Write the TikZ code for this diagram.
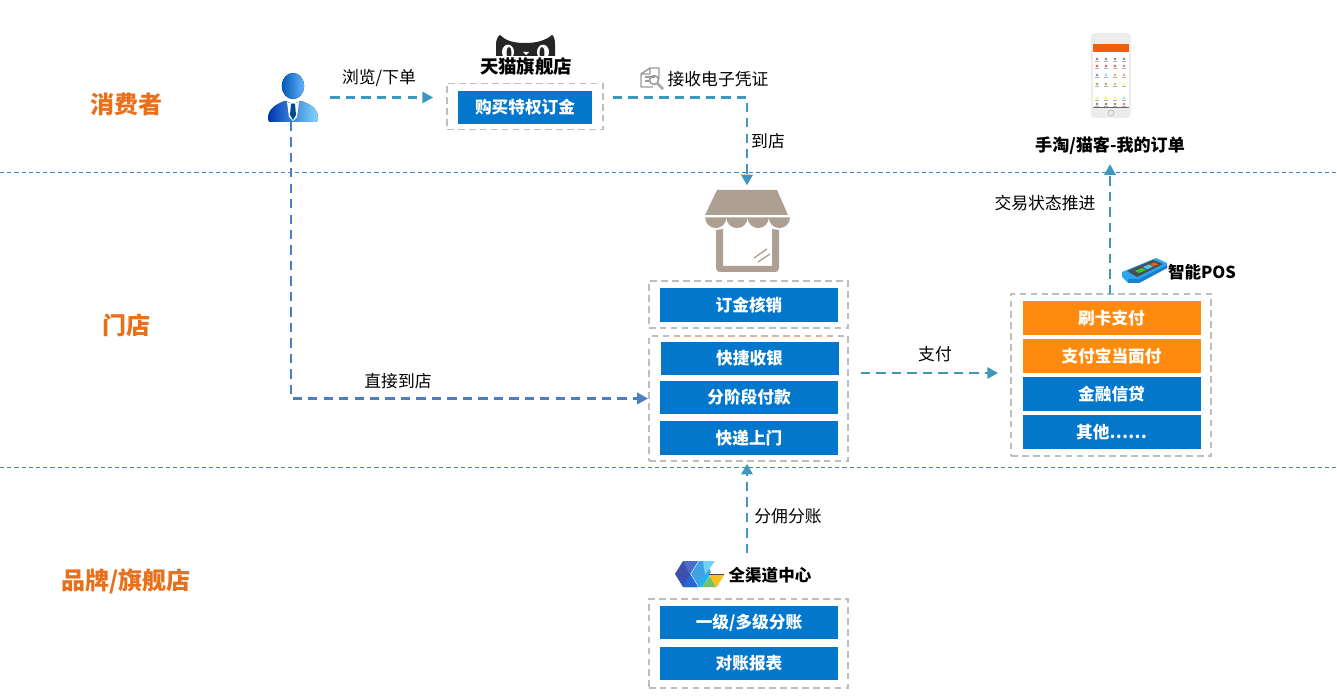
\documentclass[tikz,border=0pt]{standalone}
\usepackage{fontspec}
\setmainfont{Noto Sans CJK SC}
\usetikzlibrary{arrows.meta,calc}
\definecolor{bluebox}{HTML}{0277CC}
\definecolor{orangebox}{HTML}{FF8A0D}
\definecolor{lane}{HTML}{E8701A}
\definecolor{flowa}{HTML}{3F97BF}
\definecolor{flowb}{HTML}{4A7FC1}
\definecolor{divider}{HTML}{3F86CC}
\definecolor{framegray}{HTML}{BEBEBE}
\definecolor{shop}{HTML}{ADA092}
\definecolor{lgdark}{HTML}{3D4FB0}
\definecolor{lgmid}{HTML}{4A6FC8}
\definecolor{lgblue}{HTML}{2468D2}
\definecolor{lgsky}{HTML}{3FA2E2}
\definecolor{lgpale}{HTML}{6FD0F8}
\definecolor{lgcyan}{HTML}{15B8F0}
\definecolor{lggreen}{HTML}{74C268}
\definecolor{lgyellow}{HTML}{F8C020}
\definecolor{posblue}{HTML}{2AA5EE}
\definecolor{poshigh}{HTML}{1B7FD0}
\definecolor{posdark}{HTML}{4A4F55}
\definecolor{phoneorange}{HTML}{F0600A}
\tikzset{
  x=0.75pt,y=-0.75pt,
  lanetext/.style={text=lane,font=\fontsize{18pt}{20pt}\selectfont\bfseries,inner sep=0},
  plain/.style={text=black,font=\fontsize{12.6pt}{15pt}\selectfont,inner sep=0},
  headline/.style={text=black,font=\fontsize{12.8pt}{15pt}\selectfont\bfseries,inner sep=0},
  blue/.style={fill=bluebox,text=white,font=\fontsize{12.5pt}{15pt}\selectfont\bfseries,inner sep=0,minimum width=133.5pt,minimum height=25.2pt},
  orange/.style={blue,fill=orangebox},
  frame/.style={draw=framegray,line width=1.4pt,dash pattern=on 5pt off 3.2pt,inner sep=0},
  flow/.style={draw=flowa,line width=1.6pt,dash pattern=on 7pt off 4.6pt,-{Triangle[length=8pt,width=8.5pt]}},
  flowdark/.style={flow,draw=flowb},
  laneline/.style={draw=divider,line width=0.8pt,dash pattern=on 3.2pt off 2.2pt},
  anchorbox/.style={inner sep=0,draw=none},
}
\begin{document}
\begin{tikzpicture}
\useasboundingbox (0,0) rectangle (1337,698);
% lanes
\coordinate (la) at (0,172.5); \coordinate (lb) at (1337,172.5);
\coordinate (lc) at (0,467.5); \coordinate (ld) at (1337,467.5);
\draw[laneline] (la) -- (lb);
\draw[laneline] (lc) -- (ld);
\node[lanetext] (l1) at (126,104.5) {消费者};
\node[lanetext] (l2) at (126,325.5) {门店};
\node[lanetext] (l3) at (126,581.5) {品牌/旗舰店};

% frames
\node[frame,minimum width=117pt,minimum height=34.5pt] (tmallbox) at (525,106.5) {};
\node[frame,minimum width=149.5pt,minimum height=35pt] (verifybox) at (748.5,304.5) {};
\node[frame,minimum width=149.5pt,minimum height=93.5pt] (kiosk) at (748.5,398.5) {};
\node[frame,minimum width=150pt,minimum height=121.5pt] (paybox) at (1111,375) {};
\node[frame,minimum width=149.5pt,minimum height=66.5pt] (splitbox) at (748.5,643.5) {};

% blue and orange bars
\node[blue,minimum width=100.5pt] (b1) at (525,107.5) {购买特权订金};
\node[blue] (b2) at (749,305) {订金核销};
\node[blue] (b3) at (749.5,358.5) {快捷收银};
\node[blue] (b4) at (749,397.5) {分阶段付款};
\node[blue] (b5) at (749,438) {快递上门};
\node[orange] (p1) at (1111.5,318) {刷卡支付};
\node[orange] (p2) at (1111.5,356) {支付宝当面付};
\node[blue] (p3) at (1111.5,394) {金融信贷};
\node[blue] (p4) at (1111.5,432) {其他……};
\node[blue] (s1) at (749,622.5) {一级/多级分账};
\node[blue] (s2) at (749,663.5) {对账报表};

% person icon
\node[anchorbox,minimum width=39pt,minimum height=36pt] (person) at (291,97.5) {};
\fill[left color=blue!50!cyan!70!black,right color=cyan!50!blue!60] (293,86) ellipse[x radius=8.4pt,y radius=9.8pt];
\fill[left color=blue!70!cyan!70!black,right color=cyan!70!blue!50]
  (268,119) .. controls (268,108) and (277,104) .. (285,101) -- (293,104) -- (301,101) .. controls (310,104) and (318,108) .. (318,119)
  .. controls (318,122) and (316,122) .. (314,122) -- (272,122) .. controls (270,122) and (268,122) .. (268,119) -- cycle;
\fill[white] (287,102) -- (293,104) -- (299,102) -- (297,117) -- (293,121) -- (289,117) -- cycle;
\fill[blue!40!black!70!cyan] (291,104) -- (295,104) -- (296,115) -- (293,120) -- (290,115) -- cycle;

% cat icon
\fill[black!85] (496,56) -- (496,44) .. controls (496,40) and (498,36) .. (500,35) .. controls (505,40) and (512,43) .. (525,43)
  .. controls (538,43) and (546,40) .. (552,35) .. controls (554,36) and (555,40) .. (555,44) -- (555,56) -- cycle;
\fill[white] (508,52) ellipse[x radius=4.5pt,y radius=5.5pt];
\fill[white] (543,52) ellipse[x radius=4.5pt,y radius=5.5pt];
\fill[black!85] (509,53) ellipse[x radius=1.8pt,y radius=4.6pt];
\fill[black!85] (542,53) ellipse[x radius=1.8pt,y radius=4.6pt];
\fill[white] (523,52) -- (529,52) -- (526,55) -- cycle;
\fill[white] (494,56) rectangle (557,60);
\node[headline,font=\fontsize{13.8pt}{15pt}\selectfont\bfseries] (tmall) at (526,67) {天猫旗舰店};

% receipt icon
\draw[gray!80,line width=1.1pt,line join=round] (650,68) -- (659,68) -- (659,79) (653,87) -- (641,87) -- (641,74) -- (650,68) -- (650,74) -- (641,74);
\draw[gray!80,line width=0.8pt] (645,77) -- (655,77) (645,81) -- (650,81);
\draw[gray!80,line width=1.1pt] (654,80) circle[radius=4.5];
\draw[gray!70,line width=2pt] (657,83) -- (663,89);
\node[plain] (t2) at (718,79) {接收电子凭证};

% store icon
\node[anchorbox,minimum width=63pt,minimum height=62pt] (store) at (747,231) {};
\fill[shop] (717,190) -- (777,190) -- (788,215) -- (705,215) -- cycle;
\fill[shop] (705,217.5) -- (790,217.5) arc[start angle=0,end angle=180,radius=10.6] arc[start angle=0,end angle=180,radius=10.6] arc[start angle=0,end angle=180,radius=10.6] arc[start angle=0,end angle=180,radius=10.6] -- cycle;
\fill[shop] (716,230) -- (723,229) -- (723,266) -- (772,266) -- (772,229) -- (779,230) -- (779,268) .. controls (779,271) and (777,272) .. (775,272) -- (720,272) .. controls (718,272) and (716,271) .. (716,268) -- cycle;
\draw[shop,line width=1pt] (754,258) -- (767,249) (758,262) -- (770,254);

% phone
\fill[gray!15] (1095,33) -- (1127,33) .. controls (1129.5,33) and (1131,35) .. (1131,37) -- (1131,114) .. controls (1131,116.5) and (1129.5,118) .. (1127,118) -- (1095,118) .. controls (1092.5,118) and (1091,116.5) .. (1091,114) -- (1091,37) .. controls (1091,35) and (1092.5,33) .. (1095,33) -- cycle;
\fill[white] (1093,44) rectangle (1129,108);
\fill[phoneorange] (1093,44) rectangle (1129,52);
\fill[black!60] (1093,107) rectangle (1129,108);
\draw[gray!55,line width=0.5pt] (1111,113) circle[radius=3];
\foreach \yy/\ca/\cb/\cc/\cd in {59/gray/gray/gray/gray,66/red!70/red!70/red!70/red!60,75/blue!50/cyan!50/orange!80/orange!70,84/olive!70/olive!70/orange!70/yellow!70,98/yellow!70/yellow!80/yellow!70/green!50,104/gray/gray/gray/red!60}{
  \fill[\ca] (1097,\yy) circle[radius=1.4];
  \fill[\cb] (1106,\yy) circle[radius=1.4];
  \fill[\cc] (1115,\yy) circle[radius=1.4];
  \fill[\cd] (1124,\yy) circle[radius=1.4];
  \fill[gray!60] (1095,\yy+2.5) rectangle (1099,\yy+3.3);
  \fill[gray!60] (1104,\yy+2.5) rectangle (1108,\yy+3.3);
  \fill[gray!60] (1113,\yy+2.5) rectangle (1117,\yy+3.3);
  \fill[gray!60] (1122,\yy+2.5) rectangle (1126,\yy+3.3);
}
\node[headline] (order) at (1110,146) {手淘/猫客-我的订单};

% POS
\fill[posblue] (1122,272) -- (1156,258) -- (1167,263) -- (1167,268) -- (1139,283) -- (1128,283) -- (1122,277) -- cycle;
\fill[poshigh] (1128,279) -- (1139,279) -- (1167,265) -- (1167,268) -- (1139,283) -- (1128,283) -- cycle;
\fill[posdark] (1127,271) -- (1153,260) -- (1163,264) -- (1137,277) -- cycle;
\fill[green!60!gray] (1135,271) -- (1142,268) -- (1146,270) -- (1139,273) -- cycle;
\fill[cyan!70] (1143,267) -- (1149,264.5) -- (1153,266.5) -- (1147,269.5) -- cycle;
\fill[orange!70!red] (1150,264) -- (1154,262.5) -- (1158,264.5) -- (1154,266) -- cycle;
\node[headline,font=\fontsize{12.4pt}{15pt}\selectfont\bfseries] (pos) at (1202,272) {智能POS};

% channel logo
\fill[lgdark] (675,574) -- (683,561) -- (698,561) -- (690,574) -- (698,587) -- (683,587) -- cycle;
\fill[lgmid] (683,561) -- (698,561) -- (690,574) -- cycle;
\fill[lgblue] (690,574) -- (698,587) -- (683,587) -- cycle;
\fill[lgsky] (691,574) -- (699,561) -- (705,561) -- (711,572) -- (699,587) -- cycle;
\fill[lgpale] (703,561) -- (715,561) -- (705,575) -- cycle;
\fill[lgcyan] (705,575) -- (710,575) -- (702,587) -- (697,587) -- cycle;
\fill[lggreen] (702,587) -- (710,576) -- (716,587) -- cycle;
\fill[lgyellow] (709,575) -- (724,575) -- (717,587) -- (716,587) -- cycle;
\fill[black!70] (709,574) rectangle (724,575);
\node[headline,font=\fontsize{12.4pt}{15pt}\selectfont\bfseries] (chan) at (770,575) {全渠道中心};

% labels
\node[plain] (t1) at (379,78) {浏览/下单};
\node[plain] (t3) at (768,141) {到店};
\node[plain] (t4) at (1045,203) {交易状态推进};
\node[plain] (t5) at (935,354) {支付};
\node[plain] (t6) at (398,381) {直接到店};
\node[plain] (t7) at (788,516) {分佣分账};

% connectors
\coordinate (payfrom) at (861,373);
\coordinate (payto) at (998,373);
\coordinate (chanout) at (747,553);
\coordinate (posout) at (1110,294);
\draw[flow,shorten <=9.75pt,shorten >=9.75pt] (person.east) -- (person.east -| tmallbox.west);
\draw[flow,shorten <=6.75pt,shorten >=3pt] (person.east -| tmallbox.east) -| (store.north);
\draw[flowdark] (person.south) |- (kiosk.west);
\draw[flow] (payfrom) -- (payto);
\draw[flow] (posout) -- ($(posout |- order.south)+(0,9)$);
\draw[flow] (chanout) -- ($(chanout |- kiosk.south)+(0,2)$);
\end{tikzpicture}
\end{document}
